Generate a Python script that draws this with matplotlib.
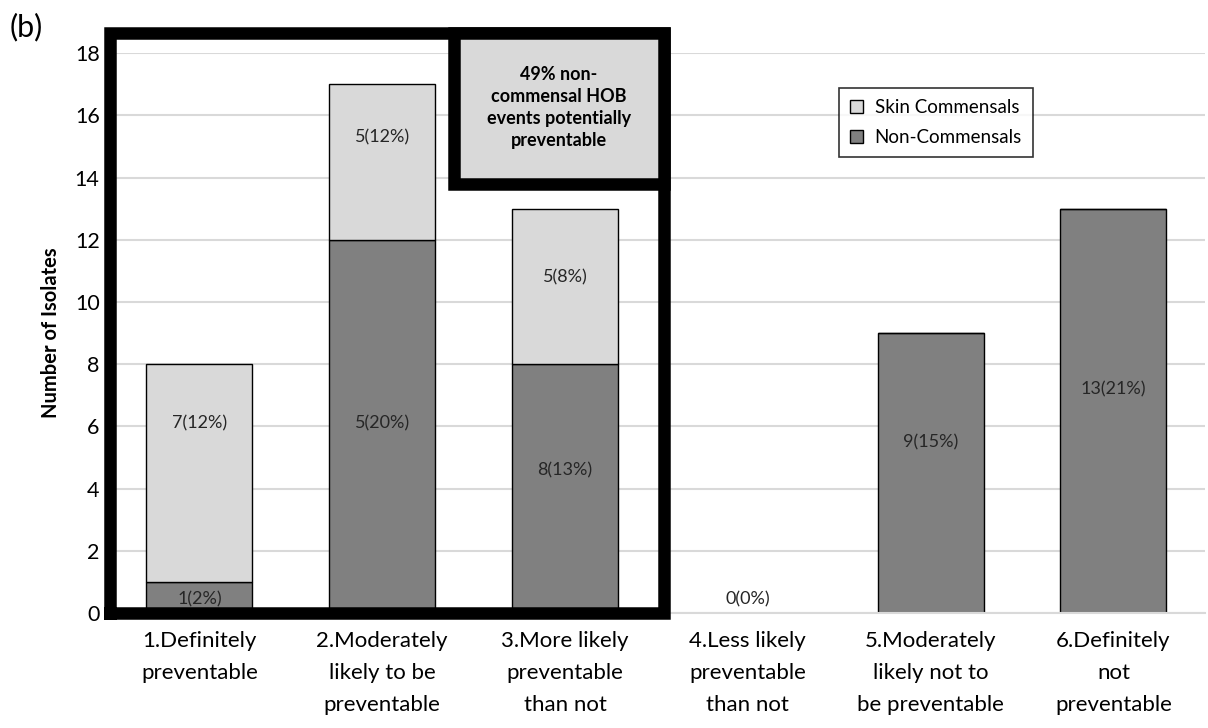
import numpy as np
import matplotlib.pyplot as plt
from matplotlib.patches import Rectangle

plt.rcParams['font.family'] = ['Lato', 'DejaVu Sans']

# Data
categories = ["1.Definitely\npreventable",
              "2.Moderately\nlikely to be\npreventable",
              "3.More likely\npreventable\nthan not",
              "4.Less likely\npreventable\nthan not",
              "5.Moderately\nlikely not to\nbe preventable",
              "6.Definitely\nnot\npreventable"]
non_commensals = [1, 12, 8, 0, 9, 13]
skin_commensals = [7, 5, 5, 0, 0, 0]
nc_labels = ["1(2%)", "5(20%)", "8(13%)", "0(0%)", "9(15%)", "13(21%)"]
sc_labels = ["7(12%)", "5(12%)", "5(8%)", "", "", ""]

# label heights as placed in the original
nc_label_y = [0.45, 6.1, 4.6, 0.45, 5.5, 7.2]
sc_label_y = [6.1, 15.3, 10.8, 0, 0, 0]

light = "#d9d9d9"
dark = "#808080"

fig = plt.figure(figsize=(12.08, 7.28), dpi=100)
ax = fig.add_axes([0.0894, 0.158, 0.908, 0.769])

x = np.arange(len(categories))
ax.bar(x, non_commensals, 0.58, color=dark, edgecolor="black", linewidth=1.0,
       label="Non-Commensals", zorder=2)
ax.bar(x, skin_commensals, 0.58, bottom=non_commensals, color=light,
       edgecolor="black", linewidth=1.0, label="Skin Commensals", zorder=2)

for i in range(len(categories)):
    ax.text(x[i], nc_label_y[i], nc_labels[i], ha="center", va="center",
            fontsize=13, color="#262626", zorder=4)
    if sc_labels[i]:
        ax.text(x[i], sc_label_y[i], sc_labels[i], ha="center", va="center",
                fontsize=13, color="#262626", zorder=4)

ax.set_xlim(-0.5, 5.5)
ax.set_ylim(0, 18)
ax.set_yticks(range(0, 19, 2))
ax.set_xticks(x)
ax.set_xticklabels(categories, fontsize=16, color="black", linespacing=1.75)
ax.tick_params(axis="y", labelsize=15.5, length=0, pad=6)
ax.tick_params(axis="x", length=0, pad=13)
ax.grid(axis="y", color="#d9d9d9", linewidth=1.5, zorder=0)
ax.set_axisbelow(True)
for s in ["top", "right", "left"]:
    ax.spines[s].set_visible(False)
ax.spines["bottom"].set_color("#d9d9d9")
ax.spines["bottom"].set_linewidth(1.5)
ax.set_ylabel("Number of Isolates", fontsize=14.5, fontweight="bold", labelpad=10)

# thick outline around the preventable group
lw = 9
ax.plot([-0.49, -0.49, 2.54, 2.54, -0.49], [0.0, 18.65, 18.65, 0.0, 0.0],
        color="black", linewidth=lw, clip_on=False, zorder=5,
        solid_joinstyle="miter", solid_capstyle="projecting")
box = Rectangle((1.39, 13.8), 1.15, 4.85, facecolor=light, edgecolor="black",
                linewidth=lw, clip_on=False, zorder=5, joinstyle="miter")
ax.add_patch(box)
ax.text(1.965, 16.25, "49% non-\ncommensal HOB\nevents potentially\npreventable",
        ha="center", va="center", fontsize=13, fontweight="bold",
        linespacing=1.35, zorder=6)

handles, labels = ax.get_legend_handles_labels()
leg = ax.legend(handles[::-1], labels[::-1], loc="upper left",
                bbox_to_anchor=(0.658, 0.955), fontsize=13.5, frameon=True,
                fancybox=False, edgecolor="black", handlelength=0.7,
                handleheight=0.7, handletextpad=0.6, borderpad=0.6,
                labelspacing=0.7)
leg.get_frame().set_linewidth(1.2)

fig.text(0.008, 0.963, "(b)", fontsize=22, va="center", ha="left")

fig.savefig("out.png", dpi=100)
